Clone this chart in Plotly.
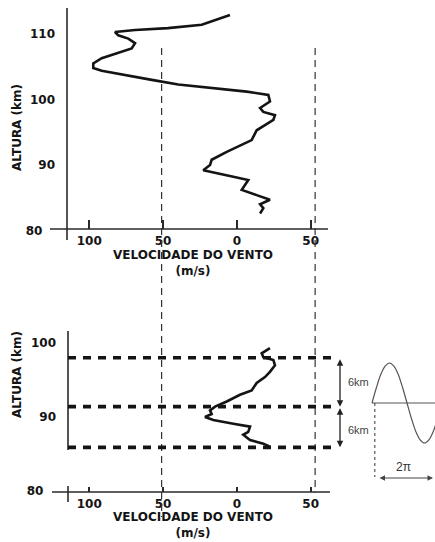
import plotly.graph_objects as go

W, H = 435, 542

# ---------------- data ----------------
# upper panel: full wind profile
top_wind = [4.7, 23.8, 46.7, 69.0, 82.6, 80.4, 73.6, 69.0, 71.3, 80.4, 91.6, 97.3, 97.3,
            91.6, 75.8, 57.7, 39.7, 17.1, -6.6, -21.3, -22.4, -15.7, -17.9, -25.8, -24.7,
            -19.0, -13.4, -10.0, -3.3, 6.9, 17.1, 18.2, 22.8, 16.0, 2.4, -7.7, -5.5, -3.3,
            -13.4, -22.4, -15.7, -17.9, -15.7]
top_alt = [112.9, 111.4, 110.9, 110.6, 110.3, 109.8, 109.3, 108.6, 107.8, 107.1, 106.3, 105.5,
           104.8, 104.4, 103.8, 103.0, 102.3, 101.8, 101.2, 100.7, 99.7, 98.7, 98.1, 97.6,
           96.9, 96.1, 95.3, 93.8, 93.1, 92.0, 90.8, 90.0, 89.2, 88.9, 88.2, 87.7, 86.9,
           86.2, 85.4, 84.7, 84.0, 83.4, 82.6]
# lower panel: detail of the 85-99 km layer
bot_wind = [-22.4, -16.8, -17.9, -24.7, -25.8, -22.4, -19.0, -13.4, -10.0, -2.1, 6.9, 14.8,
            18.2, 17.1, 21.6, 16.0, 2.4, -8.9, -7.7, -4.3, -8.9, -17.9, -22.4, -20.2]
bot_alt = [99.3, 98.6, 98.1, 97.7, 97.0, 96.1, 95.4, 94.6, 93.6, 93.0, 92.1, 91.4,
           90.9, 90.4, 90.0, 89.6, 89.1, 88.7, 88.0, 87.6, 86.9, 86.4, 86.0, 85.8]
band_alt = [98.0, 91.4, 85.9]          # dashed horizontal levels
band_labels = ["6km", "6km"]
ref_wind = [51, -53]                   # dashed vertical reference speeds
x_tickvals = [100, 50, 0, -50]
x_ticktext = ["100", "50", "0", "50"]
top_y_ticks = [110, 100, 90, 80]
top_y_text = ["110", "100", "90", "80\u00a0\u00a0\u00a0"]
bot_y_ticks = [100, 90, 80]
bot_y_text = ["100", "90", "80\u00a0\u00a0\u00a0"]
# schematic wave (phase in units of pi, relative amplitude)
wave_phase = [0, 0.125, 0.25, 0.375, 0.5, 0.625, 0.75, 0.875, 1.0,
              1.125, 1.25, 1.375, 1.5, 1.625, 1.75, 1.875, 2.0]
wave_amp = [0, 0.38, 0.71, 0.92, 1.0, 0.92, 0.71, 0.38, 0,
            -0.38, -0.71, -0.92, -1.0, -0.92, -0.71, -0.38, 0]

# ---------------- layout calibration (pixels) ----------------
def v_at(px):
    return 25 - (px - 200) / 1.476

def alt_top(py):
    return 95 - (py - 132.25) / 6.55

def alt_bot(py):
    return 90 - (py - 417) / 7.4

def ph_at(px):
    return (px - 372) / 35.0

def amp_at(py):
    return (403 - py) / 40.0

def fx(px):
    return px / W

def fy(py):
    return 1 - py / H

INK = "#141414"
AX = "#2a2a2a"
tickfont = dict(family="DejaVu Sans", size=12, color=INK, weight="bold")
labfont = dict(family="DejaVu Sans", size=12, color=INK, weight="bold")

fig = go.Figure()
fig.add_trace(go.Scatter(x=top_wind, y=top_alt, mode="lines", xaxis="x", yaxis="y",
                         line=dict(color=INK, width=2.6), showlegend=False, hoverinfo="skip"))
fig.add_trace(go.Scatter(x=bot_wind, y=bot_alt, mode="lines", xaxis="x2", yaxis="y2",
                         line=dict(color=INK, width=2.6), showlegend=False, hoverinfo="skip"))
fig.add_trace(go.Scatter(x=wave_phase, y=wave_amp, mode="lines", xaxis="x3", yaxis="y3",
                         line=dict(color="#555", width=1.2, shape="spline"),
                         showlegend=False, hoverinfo="skip"))

xcommon = dict(range=[v_at(0), v_at(W)], domain=[0, 1], anchor="free",
               showgrid=False, zeroline=False, showline=False,
               tickmode="array", tickvals=x_tickvals, ticktext=x_ticktext,
               tickfont=tickfont, ticks="inside", tickcolor=AX, tickwidth=1.6)
ycommon = dict(anchor="free", showgrid=False, zeroline=False, showline=False,
               tickmode="array", ticks="", tickfont=tickfont, ticklabelstandoff=12)

fig.update_layout(
    width=W, height=H,
    margin=dict(l=0, r=0, t=0, b=0),
    paper_bgcolor="white", plot_bgcolor="rgba(0,0,0,0)",
    xaxis=dict(xcommon, position=fy(229), ticklen=9, ticklabelstandoff=3),
    yaxis=dict(ycommon, domain=[fy(290), 1], range=[alt_top(290), alt_top(0)],
               position=fx(67), tickvals=top_y_ticks, ticktext=top_y_text),
    xaxis2=dict(xcommon, position=fy(492), ticklen=5, ticklabelstandoff=3),
    yaxis2=dict(ycommon, domain=[0, fy(300)], range=[alt_bot(542), alt_bot(300)],
                position=fx(68), tickvals=bot_y_ticks, ticktext=bot_y_text),
    xaxis3=dict(domain=[0, 1], range=[ph_at(0), ph_at(W)], visible=False, anchor="y3"),
    yaxis3=dict(domain=[0, 1], range=[amp_at(H), amp_at(0)], visible=False, anchor="x3"),
)

shapes = []
# axis lines (with their overhangs)
for x0, y0, x1, y1 in [(67, 8, 67, 240), (50, 229, 328, 229),
                       (68, 331, 68, 450), (68, 486, 68, 502), (52, 492, 330, 492)]:
    shapes.append(dict(type="line", xref="paper", yref="paper",
                       x0=fx(x0), y0=fy(y0), x1=fx(x1), y1=fy(y1),
                       line=dict(color=AX, width=1.6)))
# long dashed reference speeds crossing both panels
for v, yend in zip(ref_wind, [517, 493]):
    shapes.append(dict(type="line", xref="x", yref="paper", x0=v, x1=v,
                       y0=fy(48), y1=fy(yend),
                       line=dict(color="#333", width=1.2, dash="7px,5px")))
# thick dashed levels in lower panel
for a in band_alt:
    shapes.append(dict(type="line", xref="x2", yref="y2", x0=v_at(68), x1=v_at(338),
                       y0=a, y1=a, line=dict(color=INK, width=3.6, dash="8px,7px")))
# wave axis and dotted drop line
shapes.append(dict(type="line", xref="x3", yref="y3", x0=wave_phase[0], x1=wave_phase[-1],
                   y0=0, y1=0, line=dict(color="#555", width=1.2)))
shapes.append(dict(type="line", xref="x3", yref="y3", x0=wave_phase[0] + 0.08,
                   x1=wave_phase[0] + 0.08, y0=0, y1=amp_at(477),
                   line=dict(color="#555", width=1.2, dash="dot")))
fig.update_layout(shapes=shapes)

ann = []
# axis titles
for py in (128, 375):
    ann.append(dict(text="ALTURA (km)", xref="paper", yref="paper", x=fx(17), y=fy(py),
                    textangle=-90, showarrow=False, font=labfont,
                    xanchor="center", yanchor="middle"))
for py in (263, 525):
    ann.append(dict(text="VELOCIDADE DO VENTO<br>(m/s)", xref="paper", yref="paper",
                    x=fx(193), y=fy(py), showarrow=False, font=labfont,
                    xanchor="center", yanchor="middle"))
# 6 km double arrows
xa = v_at(340)
for (a0, a1), lab, ly in zip([(band_alt[0], band_alt[1]), (band_alt[1], band_alt[2])],
                             band_labels, [382, 430]):
    ann.append(dict(text="", xref="x2", yref="y2", axref="x2", ayref="y2",
                    x=xa, y=a1, ax=xa, ay=a0, showarrow=True,
                    arrowhead=2, startarrowhead=2, arrowside="end+start",
                    arrowsize=1, startarrowsize=1, arrowwidth=1.3, arrowcolor="#222",
                    standoff=0, startstandoff=0))
    ann.append(dict(text=lab, xref="paper", yref="paper", x=fx(358), y=fy(ly),
                    showarrow=False, font=dict(family="Liberation Sans", size=11, color="#444"),
                    xanchor="center", yanchor="middle"))
# 2 pi arrow
ann.append(dict(text="", xref="x3", yref="y3", axref="x3", ayref="y3",
                x=ph_at(433), y=amp_at(478), ax=ph_at(378), ay=amp_at(478), showarrow=True,
                arrowhead=2, startarrowhead=2, arrowside="end+start",
                arrowsize=1, startarrowsize=1, arrowwidth=1.1, arrowcolor="#444",
                standoff=0, startstandoff=0))
ann.append(dict(text="2π", xref="paper", yref="paper", x=fx(403), y=fy(467),
                showarrow=False, font=dict(family="Liberation Sans", size=12, color="#333"),
                xanchor="center", yanchor="middle"))
fig.update_layout(annotations=ann)

fig.write_html("out.html", config={"displayModeBar": False},
               post_script="document.body.style.margin='0';")
